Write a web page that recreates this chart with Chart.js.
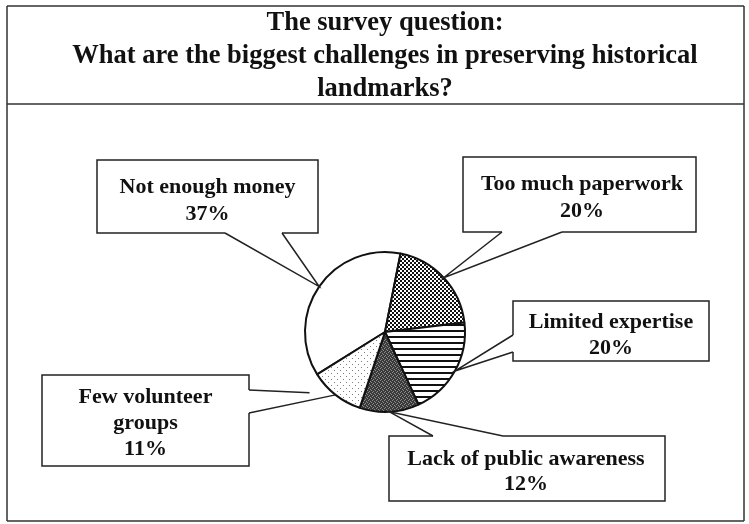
<!DOCTYPE html>
<html><head><meta charset="utf-8">
<script src="https://cdn.jsdelivr.net/npm/chart.js@4.4.0/dist/chart.umd.min.js"></script>
<style>html,body{margin:0;padding:0;background:#fff;} canvas{display:block;}</style>
</head><body>
<canvas id="c" width="749" height="524"></canvas>
<script>
// ---- data ----
const titleLines = ["The survey question:", "What are the biggest challenges in preserving historical", "landmarks?"];
const categories = ["Not enough money", "Too much paperwork", "Limited expertise", "Lack of public awareness", "Few volunteer groups"];
const values = [37, 20, 20, 12, 11];
const labelLines = [["Not enough money"], ["Too much paperwork"], ["Limited expertise"], ["Lack of public awareness"], ["Few volunteer", "groups"]];

// ---- layout (styling only) ----
const FONT = '"Liberation Serif", "Times New Roman", serif';
const TITLE = { x: 385, baselines: [30, 63, 96], size: 26.5 };
const BOXES = [
  { x0: 97, y0: 160, x1: 318, y1: 233, cx: 207.5, baselines: [193, 220], base: [[225, 233], [282, 233]] },
  { x0: 463, y0: 157, x1: 696, y1: 232, cx: 582, baselines: [190, 217], base: [[502, 232], [562, 232]] },
  { x0: 513, y0: 301, x1: 709, y1: 361, cx: 611, baselines: [328, 354], base: [[513, 335], [513, 352]] },
  { x0: 389, y0: 436, x1: 665, y1: 501, cx: 526, baselines: [465, 490], base: [[433, 436], [503, 436]] },
  { x0: 42, y0: 375, x1: 249, y1: 466, cx: 145.5, baselines: [403, 429, 455], base: [[249, 413], [249, 390]], tip2Offset: [-26, -2] }
];

function makePattern(w, h, draw) {
  const c = document.createElement('canvas'); c.width = w; c.height = h;
  const x = c.getContext('2d'); draw(x); return x.createPattern(c, 'repeat');
}
const ctx0 = document.getElementById('c').getContext('2d');
const patMoney = '#ffffff';
const patPaper = makePattern(4, 4, x => { x.fillStyle = '#fff'; x.fillRect(0, 0, 4, 4); x.fillStyle = '#111'; x.fillRect(0, 0, 2, 2); x.fillRect(2, 2, 2, 2); x.fillRect(1, 1, 1, 1); });
const patLimited = makePattern(6, 6, x => { x.fillStyle = '#fff'; x.fillRect(0, 0, 6, 6); x.fillStyle = '#111'; x.fillRect(0, 0, 6, 2); });
const patLack = makePattern(4, 4, x => {
  x.fillStyle = '#3a3a3a'; x.fillRect(0, 0, 4, 4); x.fillStyle = '#8c8c8c';
  [[0, 0], [2, 1], [1, 3], [3, 2]].forEach(p => x.fillRect(p[0], p[1], 1, 1));
});
const patFew = makePattern(6, 6, x => { x.fillStyle = '#fff'; x.fillRect(0, 0, 6, 6); x.fillStyle = '#808080'; x.fillRect(1, 1, 1, 1); x.fillRect(4, 4, 1, 1); });

const decorPlugin = {
  id: 'decor',
  afterDraw(chart) {
    const ctx = chart.ctx;
    const meta = chart.getDatasetMeta(0);
    ctx.save();
    // frame
    ctx.strokeStyle = '#333'; ctx.lineWidth = 1.5;
    ctx.beginPath();
    ctx.moveTo(7, 6); ctx.lineTo(744, 6);
    ctx.moveTo(7, 6); ctx.lineTo(7, 521);
    ctx.moveTo(7, 521); ctx.lineTo(744, 521);
    ctx.moveTo(744, 6); ctx.lineTo(744, 521);
    ctx.moveTo(7, 104); ctx.lineTo(744, 104);
    ctx.stroke();
    // title
    ctx.fillStyle = '#111'; ctx.textAlign = 'center'; ctx.textBaseline = 'alphabetic';
    ctx.font = 'bold ' + TITLE.size + 'px ' + FONT;
    titleLines.forEach((t, i) => ctx.fillText(t, TITLE.x, TITLE.baselines[i]));
    // boxes + callouts
    ctx.font = 'bold 22px ' + FONT;
    BOXES.forEach((b, i) => {
      const arc = meta.data[i];
      const mid = (arc.startAngle + arc.endAngle) / 2;
      const tip = { x: arc.x + Math.cos(mid) * arc.outerRadius, y: arc.y + Math.sin(mid) * arc.outerRadius };
      ctx.fillStyle = '#fff';
      ctx.fillRect(b.x0, b.y0, b.x1 - b.x0, b.y1 - b.y0);
      ctx.strokeStyle = '#222'; ctx.lineWidth = 1.5;
      ctx.strokeRect(b.x0, b.y0, b.x1 - b.x0, b.y1 - b.y0);
      // open the notch
      ctx.strokeStyle = '#fff'; ctx.lineWidth = 3;
      ctx.beginPath(); ctx.moveTo(b.base[0][0], b.base[0][1]); ctx.lineTo(b.base[1][0], b.base[1][1]); ctx.stroke();
      ctx.strokeStyle = '#222'; ctx.lineWidth = 1.5;
      ctx.beginPath();
      ctx.moveTo(b.base[0][0], b.base[0][1]); ctx.lineTo(tip.x, tip.y);
      if (b.tip2Offset) {
        ctx.moveTo(b.base[1][0], b.base[1][1]); ctx.lineTo(tip.x + b.tip2Offset[0], tip.y + b.tip2Offset[1]);
      } else {
        ctx.lineTo(b.base[1][0], b.base[1][1]);
      }
      ctx.stroke();
      ctx.fillStyle = '#111';
      const lines = labelLines[i].concat([values[i] + '%']);
      lines.forEach((t, k) => ctx.fillText(t, b.cx, b.baselines[k]));
    });
    ctx.restore();
  }
};

new Chart(document.getElementById('c'), {
  type: 'pie',
  data: {
    labels: categories,
    datasets: [{
      data: values,
      backgroundColor: [patMoney, patPaper, patLimited, patLack, patFew],
      borderColor: '#111',
      borderWidth: 2,
      hoverOffset: 0,
      offset: 0
    }]
  },
  options: {
    responsive: false,
    devicePixelRatio: 1,
    animation: false,
    events: [],
    rotation: -122,
    layout: { padding: { left: 304, right: 283, top: 251, bottom: 111 } },
    plugins: { legend: { display: false }, tooltip: { enabled: false }, title: { display: false } }
  },
  plugins: [{ id: 'bg', beforeDraw(c) { const x = c.ctx; x.save(); x.fillStyle = '#fff'; x.fillRect(0, 0, c.width, c.height); x.restore(); } }, decorPlugin]
});
</script>
</body></html>
